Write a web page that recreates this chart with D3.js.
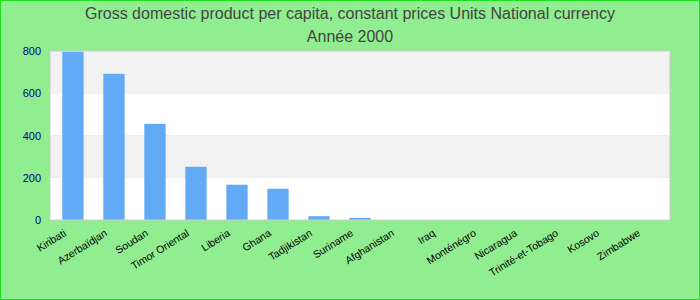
<!DOCTYPE html>
<html>
<head>
<meta charset="utf-8">
<script src="https://cdn.jsdelivr.net/npm/d3@7"></script>
<style>
  html, body { margin: 0; padding: 0; background: #90ee90; }
  svg { display: block; }
</style>
</head>
<body>
<div id="chart"></div>
<script>
  const CATEGORIES = ['Kiribati', 'Azerbaïdjan', 'Soudan', 'Timor Oriental', 'Liberia', 'Ghana',
    'Tadjikistan', 'Suriname', 'Afghanistan', 'Iraq', 'Monténégro', 'Nicaragua',
    'Trinité-et-Tobago', 'Kosovo', 'Zimbabwe'];
  const VALUES = [797, 692, 455, 252, 167, 148, 18, 10, 0, 0, 0, 0, 0, 0, 0];
  const Y_TICKS = [0, 200, 400, 600, 800];
  const TITLE = ['Gross domestic product per capita, constant prices Units National currency', 'Année 2000'];

  const width = 700, height = 300;
  const margin = { top: 51, right: 30, bottom: 80, left: 50 };

  const svg = d3.select('#chart').append('svg')
    .attr('width', width).attr('height', height);

  // frame
  svg.append('rect')
    .attr('x', 0.5).attr('y', 0.5)
    .attr('width', width - 1).attr('height', height - 1)
    .attr('fill', '#90ee90').attr('stroke', '#22dd22');

  const x = d3.scaleBand()
    .domain(CATEGORIES)
    .range([margin.left, width - margin.right])
    .paddingInner(0.48).paddingOuter(0.3);

  const y = d3.scaleLinear()
    .domain([0, 800])
    .range([height - margin.bottom, margin.top]);

  // alternating bands
  for (let i = 0; i < Y_TICKS.length - 1; i++) {
    svg.append('rect')
      .attr('x', margin.left)
      .attr('y', y(Y_TICKS[i + 1]))
      .attr('width', width - margin.right - margin.left)
      .attr('height', y(Y_TICKS[i]) - y(Y_TICKS[i + 1]))
      .attr('fill', i % 2 === 0 ? '#ffffff' : '#f2f2f2');
  }

  // bars
  svg.selectAll('.bar')
    .data(VALUES)
    .enter()
    .append('rect')
    .attr('class', 'bar')
    .attr('x', (d, i) => x(CATEGORIES[i]))
    .attr('y', d => y(d))
    .attr('width', x.bandwidth())
    .attr('height', d => y(0) - y(d))
    .attr('fill', '#62aaf5');

  // plot border
  svg.append('rect')
    .attr('x', margin.left).attr('y', margin.top)
    .attr('width', width - margin.right - margin.left)
    .attr('height', height - margin.bottom - margin.top)
    .attr('fill', 'none').attr('stroke', '#cccccc');

  // y axis
  const yAxis = svg.append('g')
    .attr('transform', `translate(${margin.left - 9},0)`)
    .call(d3.axisLeft(y).tickValues(Y_TICKS).tickSize(0).tickPadding(0));
  yAxis.select('.domain').remove();
  yAxis.selectAll('text')
    .attr('fill', '#00008b')
    .style('font-family', 'Liberation Sans, Arial, sans-serif')
    .style('font-size', '11px');

  // x axis
  const xAxis = svg.append('g')
    .attr('transform', `translate(0,${height - margin.bottom})`)
    .call(d3.axisBottom(x).tickSize(0).tickPadding(0));
  xAxis.select('.domain').remove();
  xAxis.selectAll('text')
    .attr('text-anchor', 'end')
    .attr('dy', 0)
    .attr('transform', 'translate(-6,15) rotate(-32)')
    .attr('fill', '#000')
    .style('font-family', 'Liberation Sans, Arial, sans-serif')
    .style('font-size', '10.5px');

  // title
  svg.selectAll('.title')
    .data(TITLE)
    .enter()
    .append('text')
    .attr('class', 'title')
    .attr('x', width / 2)
    .attr('y', (d, i) => 19 + i * 23)
    .attr('text-anchor', 'middle')
    .attr('fill', '#444444')
    .style('font-family', 'Liberation Sans, Arial, sans-serif')
    .style('font-size', '16px')
    .text(d => d);
</script>
</body>
</html>
